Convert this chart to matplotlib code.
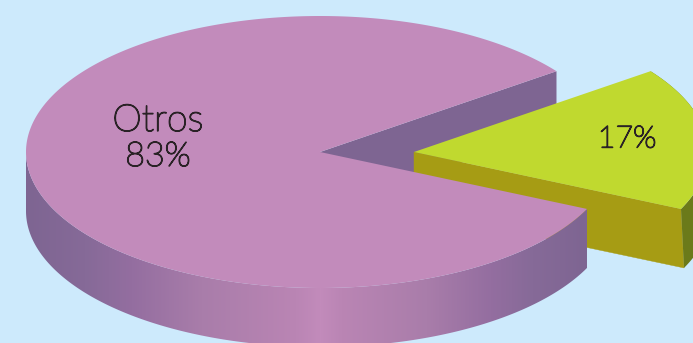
import numpy as np
import matplotlib
matplotlib.use("Agg")
import matplotlib.pyplot as plt
import matplotlib.patheffects as pe
from matplotlib.patches import Polygon
from matplotlib.colors import LinearSegmentedColormap

# Chart data
labels = ["Otros", ""]
values = [83, 17]

BG = "#cdeafc"
TOP_MAIN = "#c28bbb"
WALL_MAIN = "#7e6592"
TOP_SLICE = "#c0d92f"
WALL_SLICE = "#a69c14"
SIDE_SLICE = "#6b7a1a"
INK = "#2a2226"

W, H = 693, 343
RX, RY = 294, 136
CX, CY = 320, 152
SLICE_CX = 414
DEPTH = 59
SLICE_DEPTH = 59
START = 36.45  # angle of the upper cut, degrees counter-clockwise from east

fig = plt.figure(figsize=(W / 100, H / 100), dpi=100, facecolor=BG)
ax = fig.add_axes([0, 0, 1, 1])
ax.set_axis_off()


def arc(cx, cy, a0, a1, n=240):
    t = np.radians(np.linspace(a0, a1, n))
    return np.column_stack([cx + RX * np.cos(t), cy - RY * np.sin(t)])


share = [v / sum(values) * 360 for v in values]
main_from, main_to = START, START + share[0]
slice_from, slice_to = START - share[1], START

# Back wall of the large piece, seen through the cut
upper = arc(CX, CY, main_from, main_from, 1)[0]
ax.add_patch(Polygon([(CX, CY), upper, (upper[0], upper[1] + DEPTH), (CX, CY + DEPTH)],
                     fc=WALL_MAIN, ec="none", zorder=1))

# Detached slice: front wall, rim, top
s_arc = arc(SLICE_CX, CY, slice_from, slice_to)
corner = s_arc[0]
foot = corner + np.array([3, SLICE_DEPTH])
ax.add_patch(Polygon([(SLICE_CX, CY), corner, foot, (SLICE_CX, CY + SLICE_DEPTH)],
                     fc=WALL_SLICE, ec=WALL_SLICE, lw=0.3, zorder=2))
rim = np.vstack([s_arc, (s_arc + [3, SLICE_DEPTH])[::-1]])
ax.add_patch(Polygon(rim, fc=SIDE_SLICE, ec="none", zorder=2))
ax.add_patch(Polygon(np.vstack([[(SLICE_CX, CY)], s_arc]), fc=TOP_SLICE,
                     ec="none", zorder=3))

# Curved outer wall of the large piece, lightest under the centre of the pie
front = arc(CX, CY, 180, 360 + slice_from)
wall = Polygon(np.vstack([front, (front + [0, DEPTH])[::-1]]), fc="none", ec="none",
               transform=ax.transData)
ax.add_patch(wall)
cmap = LinearSegmentedColormap.from_list(
    "wall", [(0, WALL_MAIN), (0.2, "#866a98"), (0.36, "#946ea0"), (0.6, "#a97daa"),
             (0.92, "#ba85b4"), (1, TOP_MAIN)])
x_left, x_right = CX - RX, front[-1, 0]
xs = np.linspace(x_left, x_right, 1024)
ramp = np.where(xs < CX, (xs - x_left) / (CX - x_left), (x_right - xs) / (x_right - CX))
shade = ax.imshow(ramp.reshape(1, -1), cmap=cmap, vmin=0, vmax=1,
                  extent=[x_left, x_right, H, 0], aspect="auto",
                  zorder=4, interpolation="bilinear")
shade.set_clip_path(wall)

# Top face of the large piece
m_arc = arc(CX, CY, main_from, main_to, 600)
ax.add_patch(Polygon(np.vstack([[(CX, CY)], m_arc]), fc=TOP_MAIN, ec="none", zorder=5))

ax.set_xlim(0, W)
ax.set_ylim(H, 0)

# Light letterforms with a fine stroke for a slightly firmer line
firm = [pe.withStroke(linewidth=1.0, foreground=INK)]
font = dict(family="Lato", weight="light", color=INK, ha="center", va="center",
            zorder=6, path_effects=firm)
ax.text(158, 121, labels[0], fontsize=27, **font)
ax.text(158, 157, f"{values[0]}%", fontsize=24.5, **font)
ax.text(627, 139, f"{values[1]}%", fontsize=22, **font)

fig.savefig("out.png", dpi=100, facecolor=BG)
